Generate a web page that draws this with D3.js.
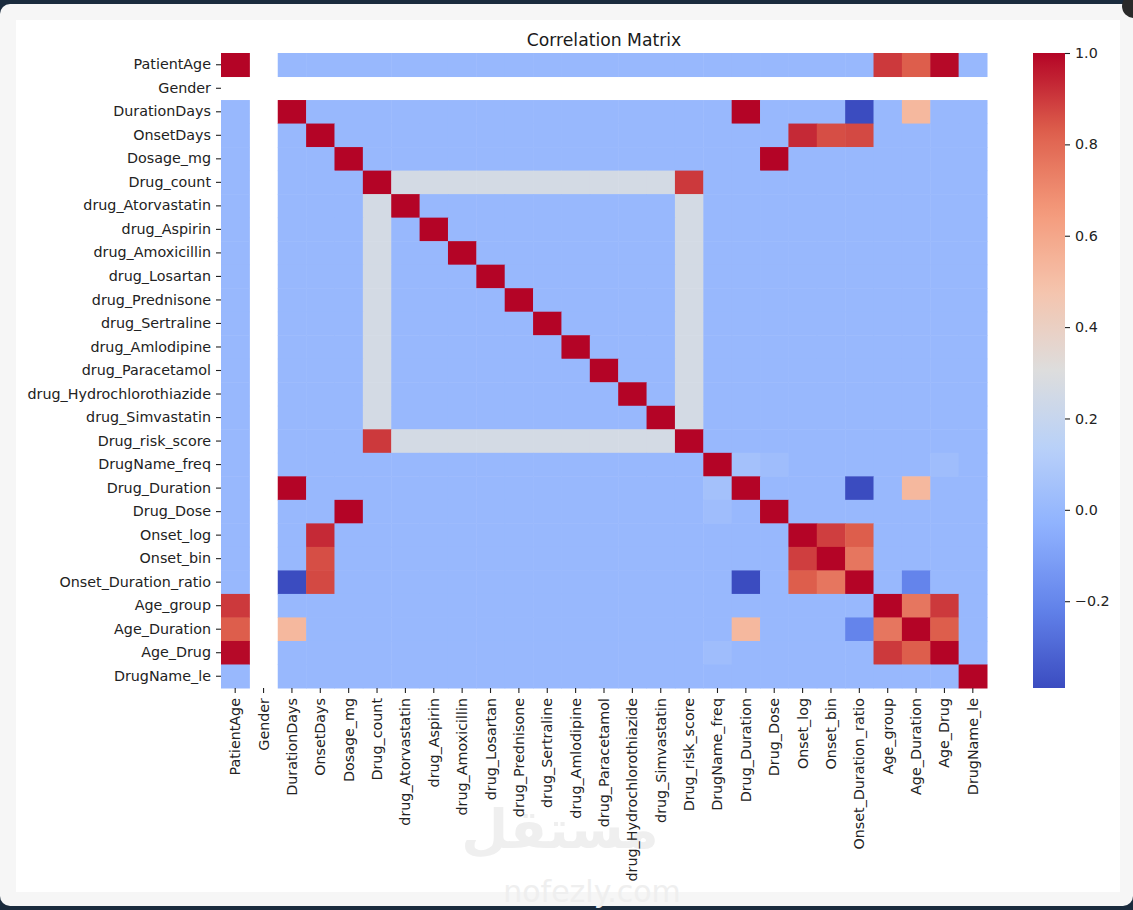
<!DOCTYPE html>
<html>
<head>
<meta charset="utf-8">
<script src="https://cdn.jsdelivr.net/npm/d3@7"></script>
<style>
  body { margin: 0; background: #f6f6f6; }
  svg { display: block; font-family: "DejaVu Sans", sans-serif; }
</style>
</head>
<body>
<div id="chart"></div>
<script>
// variables, in heatmap order
const labels = [
  "PatientAge", "Gender", "DurationDays", "OnsetDays", "Dosage_mg", "Drug_count",
  "drug_Atorvastatin", "drug_Aspirin", "drug_Amoxicillin", "drug_Losartan",
  "drug_Prednisone", "drug_Sertraline", "drug_Amlodipine", "drug_Paracetamol",
  "drug_Hydrochlorothiazide", "drug_Simvastatin", "Drug_risk_score", "DrugName_freq",
  "Drug_Duration", "Drug_Dose", "Onset_log", "Onset_bin", "Onset_Duration_ratio",
  "Age_group", "Age_Duration", "Age_Drug", "DrugName_le"
];

// correlation matrix (null = NaN, Gender is constant)
const N = null;
const corr = [
  [1.00,N,0.00,0.00,0.00,0.00,0.00,0.00,0.00,0.00,0.00,0.00,0.00,0.00,0.00,0.00,0.00,0.00,0.00,0.00,0.00,0.00,0.00,0.90,0.83,0.99,0.00],
  [N,N,N,N,N,N,N,N,N,N,N,N,N,N,N,N,N,N,N,N,N,N,N,N,N,N,N],
  [0.00,N,1.00,0.00,0.00,0.00,0.00,0.00,0.00,0.00,0.00,0.00,0.00,0.00,0.00,0.00,0.00,0.00,1.00,0.00,0.00,0.00,-0.39,0.00,0.53,0.00,0.00],
  [0.00,N,0.00,1.00,0.00,0.00,0.00,0.00,0.00,0.00,0.00,0.00,0.00,0.00,0.00,0.00,0.00,0.00,0.00,0.00,0.93,0.86,0.87,0.00,0.00,0.00,0.00],
  [0.00,N,0.00,0.00,1.00,0.00,0.00,0.00,0.00,0.00,0.00,0.00,0.00,0.00,0.00,0.00,0.00,0.00,0.00,1.00,0.00,0.00,0.00,0.00,0.00,0.00,0.00],
  [0.00,N,0.00,0.00,0.00,1.00,0.26,0.26,0.26,0.26,0.26,0.26,0.26,0.26,0.26,0.26,0.90,0.00,0.00,0.00,0.00,0.00,0.00,0.00,0.00,0.00,0.00],
  [0.00,N,0.00,0.00,0.00,0.26,1.00,0.00,0.00,0.00,0.00,0.00,0.00,0.00,0.00,0.00,0.26,0.00,0.00,0.00,0.00,0.00,0.00,0.00,0.00,0.00,0.00],
  [0.00,N,0.00,0.00,0.00,0.26,0.00,1.00,0.00,0.00,0.00,0.00,0.00,0.00,0.00,0.00,0.26,0.00,0.00,0.00,0.00,0.00,0.00,0.00,0.00,0.00,0.00],
  [0.00,N,0.00,0.00,0.00,0.26,0.00,0.00,1.00,0.00,0.00,0.00,0.00,0.00,0.00,0.00,0.26,0.00,0.00,0.00,0.00,0.00,0.00,0.00,0.00,0.00,0.00],
  [0.00,N,0.00,0.00,0.00,0.26,0.00,0.00,0.00,1.00,0.00,0.00,0.00,0.00,0.00,0.00,0.26,0.00,0.00,0.00,0.00,0.00,0.00,0.00,0.00,0.00,0.00],
  [0.00,N,0.00,0.00,0.00,0.26,0.00,0.00,0.00,0.00,1.00,0.00,0.00,0.00,0.00,0.00,0.26,0.00,0.00,0.00,0.00,0.00,0.00,0.00,0.00,0.00,0.00],
  [0.00,N,0.00,0.00,0.00,0.26,0.00,0.00,0.00,0.00,0.00,1.00,0.00,0.00,0.00,0.00,0.26,0.00,0.00,0.00,0.00,0.00,0.00,0.00,0.00,0.00,0.00],
  [0.00,N,0.00,0.00,0.00,0.26,0.00,0.00,0.00,0.00,0.00,0.00,1.00,0.00,0.00,0.00,0.26,0.00,0.00,0.00,0.00,0.00,0.00,0.00,0.00,0.00,0.00],
  [0.00,N,0.00,0.00,0.00,0.26,0.00,0.00,0.00,0.00,0.00,0.00,0.00,1.00,0.00,0.00,0.26,0.00,0.00,0.00,0.00,0.00,0.00,0.00,0.00,0.00,0.00],
  [0.00,N,0.00,0.00,0.00,0.26,0.00,0.00,0.00,0.00,0.00,0.00,0.00,0.00,1.00,0.00,0.26,0.00,0.00,0.00,0.00,0.00,0.00,0.00,0.00,0.00,0.00],
  [0.00,N,0.00,0.00,0.00,0.26,0.00,0.00,0.00,0.00,0.00,0.00,0.00,0.00,0.00,1.00,0.26,0.00,0.00,0.00,0.00,0.00,0.00,0.00,0.00,0.00,0.00],
  [0.00,N,0.00,0.00,0.00,0.90,0.26,0.26,0.26,0.26,0.26,0.26,0.26,0.26,0.26,0.26,1.00,0.00,0.00,0.00,0.00,0.00,0.00,0.00,0.00,0.00,0.00],
  [0.00,N,0.00,0.00,0.00,0.00,0.00,0.00,0.00,0.00,0.00,0.00,0.00,0.00,0.00,0.00,0.00,1.00,0.05,0.03,0.00,0.00,0.00,0.00,0.00,0.03,0.00],
  [0.00,N,1.00,0.00,0.00,0.00,0.00,0.00,0.00,0.00,0.00,0.00,0.00,0.00,0.00,0.00,0.00,0.05,1.00,0.00,0.00,0.00,-0.39,0.00,0.53,0.00,0.00],
  [0.00,N,0.00,0.00,1.00,0.00,0.00,0.00,0.00,0.00,0.00,0.00,0.00,0.00,0.00,0.00,0.00,0.03,0.00,1.00,0.00,0.00,0.00,0.00,0.00,0.00,0.00],
  [0.00,N,0.00,0.93,0.00,0.00,0.00,0.00,0.00,0.00,0.00,0.00,0.00,0.00,0.00,0.00,0.00,0.00,0.00,0.00,1.00,0.89,0.83,0.00,0.00,0.00,0.00],
  [0.00,N,0.00,0.86,0.00,0.00,0.00,0.00,0.00,0.00,0.00,0.00,0.00,0.00,0.00,0.00,0.00,0.00,0.00,0.00,0.89,1.00,0.76,0.00,0.00,0.00,0.00],
  [0.00,N,-0.39,0.87,0.00,0.00,0.00,0.00,0.00,0.00,0.00,0.00,0.00,0.00,0.00,0.00,0.00,0.00,-0.39,0.00,0.83,0.76,1.00,0.00,-0.21,0.00,0.00],
  [0.90,N,0.00,0.00,0.00,0.00,0.00,0.00,0.00,0.00,0.00,0.00,0.00,0.00,0.00,0.00,0.00,0.00,0.00,0.00,0.00,0.00,0.00,1.00,0.76,0.90,0.00],
  [0.83,N,0.53,0.00,0.00,0.00,0.00,0.00,0.00,0.00,0.00,0.00,0.00,0.00,0.00,0.00,0.00,0.00,0.53,0.00,0.00,0.00,-0.21,0.76,1.00,0.83,0.00],
  [0.99,N,0.00,0.00,0.00,0.00,0.00,0.00,0.00,0.00,0.00,0.00,0.00,0.00,0.00,0.00,0.00,0.03,0.00,0.00,0.00,0.00,0.00,0.90,0.83,1.00,0.00],
  [0.00,N,0.00,0.00,0.00,0.00,0.00,0.00,0.00,0.00,0.00,0.00,0.00,0.00,0.00,0.00,0.00,0.00,0.00,0.00,0.00,0.00,0.00,0.00,0.00,0.00,1.00]
];

const colorbarTicks = [-0.2, 0.0, 0.2, 0.4, 0.6, 0.8, 1.0];
// matplotlib "coolwarm" anchor colours
const coolwarm = ["#3b4cc0", "#6282ea", "#8db0fe", "#b8d0f9", "#dddddd", "#f5c4ad", "#f49a7b", "#de604d", "#b40426"];

const W = 1133, H = 910;
const plot = {left: 221, right: 987, top: 53, bottom: 688};
const cbar = {x: 1033, width: 32};
const tickFont = 14.3;

const cells = [];
corr.forEach((row, i) => row.forEach((v, j) => {
  if (v !== null) cells.push({row: labels[i], col: labels[j], value: v});
}));

const vmin = d3.min(cells, d => d.value), vmax = d3.max(cells, d => d.value);
const color = d3.scaleLinear()
  .domain(d3.range(coolwarm.length).map(k => vmin + (vmax - vmin) * k / (coolwarm.length - 1)))
  .range(coolwarm)
  .interpolate(d3.interpolateRgb);

const svg = d3.select("#chart").append("svg")
  .attr("width", W).attr("height", H);

// screenshot frame
svg.append("rect").attr("width", W).attr("height", H).attr("fill", "#1a2b3d");
svg.append("rect").attr("x", 0).attr("y", 4).attr("width", W).attr("height", 902)
  .attr("rx", 10).attr("fill", "#f6f6f6");
svg.append("rect").attr("x", 16).attr("y", 20).attr("width", 1104).attr("height", 872)
  .attr("fill", "#ffffff");
svg.append("circle").attr("cx", 1134).attr("cy", 6).attr("r", 12).attr("fill", "#2a2a2a");

// faint watermark
const wm = svg.append("g").attr("fill", "#efefef").attr("text-anchor", "middle");
wm.append("text").attr("x", 560).attr("y", 848).attr("font-size", 54)
  .attr("font-family", "Noto Sans, DejaVu Sans, sans-serif").attr("font-weight", "bold").text("مستقل");
wm.append("text").attr("x", 592).attr("y", 902).attr("font-size", 30).text("nofezly.com");

const x = d3.scaleBand().domain(labels).range([plot.left, plot.right]);
const y = d3.scaleBand().domain(labels).range([plot.top, plot.bottom]);

svg.append("g").attr("class", "cellsG")
  .selectAll("rect").data(cells).join("rect")
  .attr("x", d => x(d.col))
  .attr("y", d => y(d.row))
  .attr("width", x.bandwidth() + 0.5)
  .attr("height", y.bandwidth() + 0.5)
  .attr("fill", d => color(d.value));

svg.append("text")
  .attr("x", (plot.left + plot.right) / 2).attr("y", 46)
  .attr("text-anchor", "middle").attr("font-size", 17.2).attr("fill", "#1a1a1a")
  .text("Correlation Matrix");

const yAxisG = svg.append("g").attr("transform", "translate(" + plot.left + ",0)")
  .call(d3.axisLeft(y).tickSize(5).tickPadding(5));
const xAxisG = svg.append("g").attr("transform", "translate(0," + plot.bottom + ")")
  .call(d3.axisBottom(x).tickSize(5).tickPadding(5));

[yAxisG, xAxisG].forEach(g => {
  g.select(".domain").remove();
  g.selectAll(".tick line").attr("stroke", "#222").attr("stroke-width", 1.1);
  g.selectAll("text").attr("font-size", tickFont).attr("fill", "#222")
    .attr("font-family", "DejaVu Sans, sans-serif");
});
xAxisG.selectAll("text")
  .attr("transform", "rotate(-90)")
  .attr("x", -10).attr("y", 0).attr("dy", "0.35em")
  .style("text-anchor", "end");

// colour bar
const cScale = d3.scaleLinear().domain([vmin, vmax]).range([plot.bottom, plot.top]);
const grad = svg.append("defs").append("linearGradient")
  .attr("id", "cbarGrad").attr("x1", 0).attr("y1", 1).attr("x2", 0).attr("y2", 0);
grad.selectAll("stop").data(d3.range(0, 1.0001, 0.02)).join("stop")
  .attr("offset", t => t)
  .attr("stop-color", t => color(vmin + (vmax - vmin) * t));
svg.append("rect")
  .attr("x", cbar.x).attr("y", plot.top)
  .attr("width", cbar.width).attr("height", plot.bottom - plot.top)
  .attr("fill", "url(#cbarGrad)");

const cAxisG = svg.append("g").attr("transform", "translate(" + (cbar.x + cbar.width) + ",0)")
  .call(d3.axisRight(cScale).tickValues(colorbarTicks).tickSize(5).tickPadding(5)
    .tickFormat(d => d3.format(".1f")(d).replace("-", "\u2212")));
cAxisG.select(".domain").remove();
cAxisG.selectAll(".tick line").attr("stroke", "#222").attr("stroke-width", 1.1);
cAxisG.selectAll("text").attr("font-size", tickFont).attr("fill", "#222")
  .attr("font-family", "DejaVu Sans, sans-serif");
</script>
</body>
</html>
